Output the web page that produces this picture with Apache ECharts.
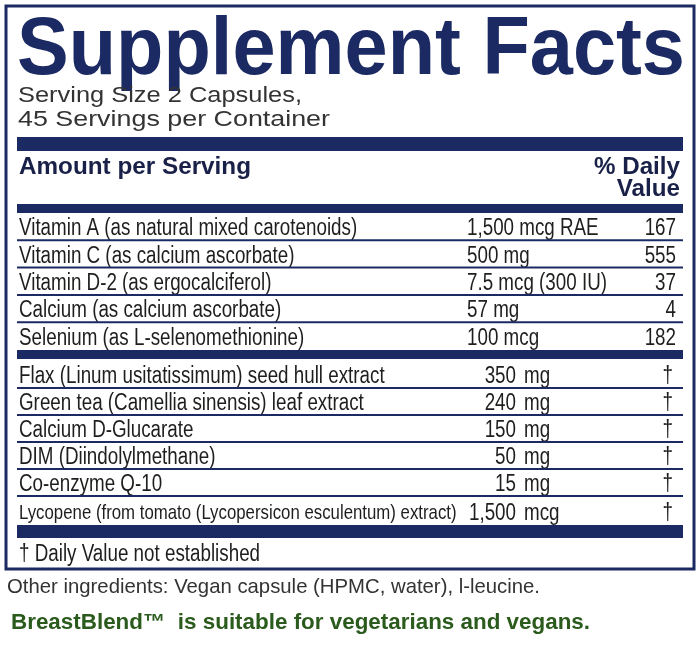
<!DOCTYPE html>
<html><head><meta charset="utf-8">
<script src="https://cdn.jsdelivr.net/npm/echarts@6/dist/echarts.min.js"></script>
<style>html,body{margin:0;padding:0;background:#fff}#c{width:700px;height:647px}</style>
</head><body><div id="c"></div>
<script>
const title = "Supplement Facts";
const servingLines = ["Serving Size 2 Capsules,", "45 Servings per Container"];
const vitNames = ["Vitamin A (as natural mixed carotenoids)","Vitamin C (as calcium ascorbate)","Vitamin D-2 (as ergocalciferol)","Calcium (as calcium ascorbate)","Selenium (as L-selenomethionine)"];
const vitAmounts = ["1,500 mcg RAE","500 mg","7.5 mcg (300 IU)","57 mg","100 mcg"];
const vitDV = ["167","555","37","4","182"];
const otherNames = ["Flax (Linum usitatissimum) seed hull extract","Green tea (Camellia sinensis) leaf extract","Calcium D-Glucarate","DIM (Diindolylmethane)","Co-enzyme Q-10","Lycopene (from tomato (Lycopersicon esculentum) extract)"];
const otherNums = ["350","240","150","50","15","1,500"];
const otherUnits = ["mg","mg","mg","mg","mg","mcg"];
const otherDV = ["†","†","†","†","†","†"];
const footnote = "† Daily Value not established";
const otherIngr = "Other ingredients: Vegan capsule (HPMC, water), l-leucine.";
const tagline = "BreastBlend™  is suitable for vegetarians and vegans.";

const NAVY = "#1b2a63", TXT = "#1e1e1e";
const LS = "'Liberation Sans', Arial, sans-serif";
const cv = document.createElement('canvas').getContext('2d');
function w(t, font){ cv.font = font; return cv.measureText(t).width; }

const g = [];
function rect(x,y,wd,h,fill){ g.push({type:'rect',shape:{x,y,width:wd,height:h},style:{fill}}); }
// x anchor, baseline B, font size s
function txt(t,x,B,s,opt){
  const top = B - 0.716*s - 1;
  g.push({type:'text',x,y:top,scaleX:opt.sx||1,originX:0,
    style:Object.assign({text:t,fill:TXT,verticalAlign:'top',align:'left',font:(opt.bold?'bold ':'')+s+'px '+LS},opt.style||{})});
}
function fit(t,s,bold,target){ return target / w(t,(bold?'bold ':'')+s+'px '+LS); }

g.push({type:'rect',shape:{x:6,y:6,width:688,height:563},style:{fill:'none',stroke:NAVY,lineWidth:3}});
txt(title,17,70,81,{bold:true,sx:fit(title,81,true,668),style:{fill:NAVY}});
txt(servingLines[0],18,102,22,{sx:fit(servingLines[0],22,false,284),style:{fill:"#333"}});
txt(servingLines[1],18,126,22,{sx:fit(servingLines[1],22,false,312),style:{fill:"#333"}});
rect(17,137,666,14,NAVY);
txt("Amount per Serving",19,174,24,{bold:true,sx:fit("Amount per Serving",24,true,232),style:{fill:"#1a2148"}});
txt("% Daily",680,174,24,{bold:true,sx:fit("% Daily",24,true,86),style:{fill:"#1a2148",align:'right'}});
txt("Value",680,196,24,{bold:true,sx:fit("% Daily",24,true,86),style:{fill:"#1a2148",align:'right'}});
rect(17,204,666,9,NAVY);
const RS = 23.5, SX = 0.8;
let y = 213;
const rh = 27.3;
vitNames.forEach((n,i)=>{
  const B = y + rh - 5.5;
  txt(n,19,B,RS,{sx:SX});
  txt(vitAmounts[i],467,B,RS,{sx:SX});
  txt(vitDV[i],676,B,RS,{sx:SX,style:{align:'right'}});
  y += rh;
  if(i<vitNames.length-1) rect(17,y-1,666,2,NAVY);
});
rect(17,350,666,9,NAVY);
const bands = [359,388,415,442,469,496,525];
otherNames.forEach((n,i)=>{
  const B = bands[i+1] - 6;
  const last = i===otherNames.length-1;
  txt(n,19,B,last?21:RS,{sx:SX});
  txt(otherNums[i],516,B,RS,{sx:SX,style:{align:'right'}});
  txt(otherUnits[i],524,B,RS,{sx:SX});
  txt(otherDV[i],673,B,RS,{sx:SX,style:{align:'right'}});
  if(!last) rect(17,bands[i+1]-1,666,2,NAVY);
});
rect(17,525,666,13,NAVY);
txt(footnote,19,560,RS,{sx:SX});
txt(otherIngr,7,593,21,{sx:fit(otherIngr,21,false,533),style:{fill:"#333"}});
txt(tagline,11,629,22,{bold:true,sx:fit(tagline,22,true,579),style:{fill:"#2a5a1c"}});

const chart = echarts.init(document.getElementById('c'),null,{renderer:'canvas'});
chart.setOption({animation:false,graphic:{elements:g}});
</script></body></html>
